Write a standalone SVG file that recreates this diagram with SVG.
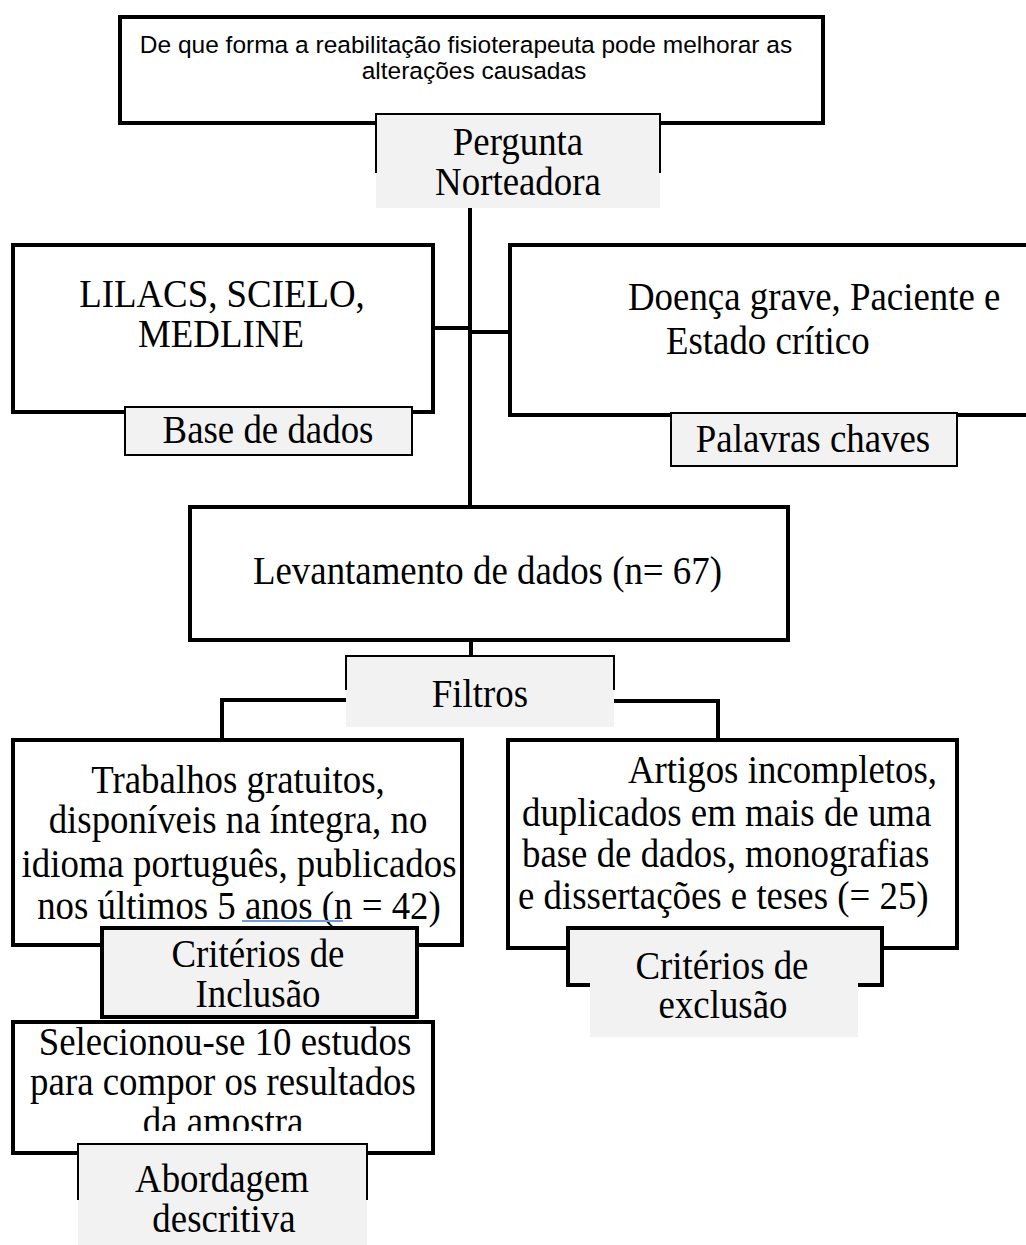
<svg xmlns="http://www.w3.org/2000/svg" width="1026" height="1245" viewBox="0 0 1026 1245">
<style>
.box{fill:#fff;stroke:#000;stroke-width:4}
.lbl{fill:#f2f2f2;stroke:#000;stroke-width:2}
.lblk{fill:#f2f2f2;stroke:#000;stroke-width:4}
.grey{fill:#f2f2f2;stroke:none}
.edge{fill:none;stroke:#000;stroke-width:2}
.conn{fill:none;stroke:#000;stroke-width:4}
.t{font-family:"Liberation Serif","Times New Roman",serif;font-size:39px;fill:#000}
.s{font-family:"Liberation Sans",Arial,sans-serif;font-size:24.5px;fill:#000}
.m{text-anchor:middle}
</style>
<defs>
<clipPath id="clipSel"><rect x="13" y="1022" width="420" height="109"/></clipPath>
</defs>
<rect width="1026" height="1245" fill="#fff"/>

<g id="connectors">
<line class="conn" x1="470" y1="206" x2="470" y2="507"/>
<line class="conn" x1="433" y1="328" x2="470" y2="328"/>
<line class="conn" x1="470" y1="332" x2="510" y2="332"/>
<line class="conn" x1="471" y1="640" x2="471" y2="656"/>
<path class="conn" d="M346,700 H222 V740"/>
<path class="conn" d="M614,701 H718 V740"/>
</g>

<g id="question">
<rect class="box" x="120" y="17" width="703" height="106"/>
<text class="s m" x="466" y="53">De que forma a reabilitação fisioterapeuta pode melhorar as</text>
<text class="s m" x="474" y="79">alterações causadas</text>
</g>
<g id="question-label">
<rect class="grey" x="376" y="114" width="284" height="94"/>
<path class="edge" d="M376,173 V114 H660 V173"/>
<text class="t m" transform="scale(0.945 1)" x="548.15" y="155">Pergunta</text>
<text class="t m" transform="scale(0.945 1)" x="548.15" y="195">Norteadora</text>
</g>

<g id="databases">
<rect class="box" x="13" y="245" width="420" height="167"/>
<text class="t m" transform="scale(0.945 1)" x="234.92" y="307">LILACS, SCIELO,</text>
<text class="t m" transform="scale(0.945 1)" x="233.86" y="347">MEDLINE</text>
</g>
<g id="databases-label">
<rect class="lbl" x="125" y="407" width="287" height="48"/>
<text class="t m" transform="scale(0.945 1)" x="283.60" y="443">Base de dados</text>
</g>

<g id="keywords">
<rect class="box" x="510" y="245" width="530" height="170"/>
<text class="t" transform="scale(0.945 1)" x="664.55" y="310">Doença grave, Paciente e</text>
<text class="t" transform="scale(0.945 1)" x="704.76" y="354">Estado crítico</text>
</g>
<g id="keywords-label">
<rect class="lbl" x="671" y="413" width="286" height="53"/>
<text class="t m" transform="scale(0.945 1)" x="860.32" y="452">Palavras chaves</text>
</g>

<g id="survey">
<rect class="box" x="190" y="507" width="598" height="133"/>
<text class="t" transform="scale(0.945 1)" x="267.72" y="584">Levantamento de dados (n= 67)</text>
</g>

<g id="filters">
<rect class="grey" x="346" y="656" width="268" height="71"/>
<path class="edge" d="M346,690 V656 H614 V690"/>
<text class="t m" transform="scale(0.945 1)" x="507.94" y="707">Filtros</text>
</g>

<g id="inclusion">
<rect class="box" x="13" y="740" width="449" height="205"/>
<text class="t m" transform="scale(0.945 1)" x="251.85" y="793">Trabalhos gratuitos,</text>
<text class="t m" transform="scale(0.945 1)" x="251.85" y="833">disponíveis na íntegra, no</text>
<text class="t m" transform="scale(0.945 1)" x="252.91" y="877">idioma português, publicados</text>
<text class="t m" transform="scale(0.945 1)" x="252.91" y="919">nos últimos 5 anos (n = 42)</text>
<line x1="242" y1="921" x2="343" y2="921" stroke="#6f9be0" stroke-width="2"/>
</g>
<g id="inclusion-label">
<rect class="lblk" x="102" y="928" width="315" height="89"/>
<text class="t m" transform="scale(0.945 1)" x="273.02" y="967">Critérios de</text>
<text class="t m" transform="scale(0.945 1)" x="273.02" y="1007">Inclusão</text>
</g>

<g id="exclusion">
<rect class="box" x="508" y="740" width="449" height="208"/>
<text class="t" transform="scale(0.945 1)" x="991.53" y="783" text-anchor="end">Artigos incompletos,</text>
<text class="t" transform="scale(0.945 1)" x="552.38" y="826">duplicados em mais de uma</text>
<text class="t" transform="scale(0.945 1)" x="552.38" y="867">base de dados, monografias</text>
<text class="t" transform="scale(0.945 1)" x="548.15" y="909">e dissertações e teses (= 25)</text>
</g>
<g id="exclusion-label">
<rect class="lblk" x="568" y="928" width="314" height="57"/>
<rect class="grey" x="590" y="940" width="268" height="97"/>
<text class="t m" transform="scale(0.945 1)" x="764.02" y="979">Critérios de</text>
<text class="t m" transform="scale(0.945 1)" x="765.08" y="1018">exclusão</text>
</g>

<g id="selected">
<rect class="box" x="13" y="1022" width="420" height="131"/>
<g clip-path="url(#clipSel)">
<text class="t m" transform="scale(0.945 1)" x="238.10" y="1055">Selecionou-se 10 estudos</text>
<text class="t m" transform="scale(0.945 1)" x="235.98" y="1095">para compor os resultados</text>
<text class="t m" transform="scale(0.945 1)" x="235.98" y="1135">da amostra</text>
</g>
</g>
<g id="approach-label">
<rect class="grey" x="78" y="1144" width="289" height="101"/>
<path class="edge" d="M78,1200 V1144 H367 V1200"/>
<text class="t m" transform="scale(0.945 1)" x="234.92" y="1192">Abordagem</text>
<text class="t m" transform="scale(0.945 1)" x="237.04" y="1232">descritiva</text>
</g>
</svg>
